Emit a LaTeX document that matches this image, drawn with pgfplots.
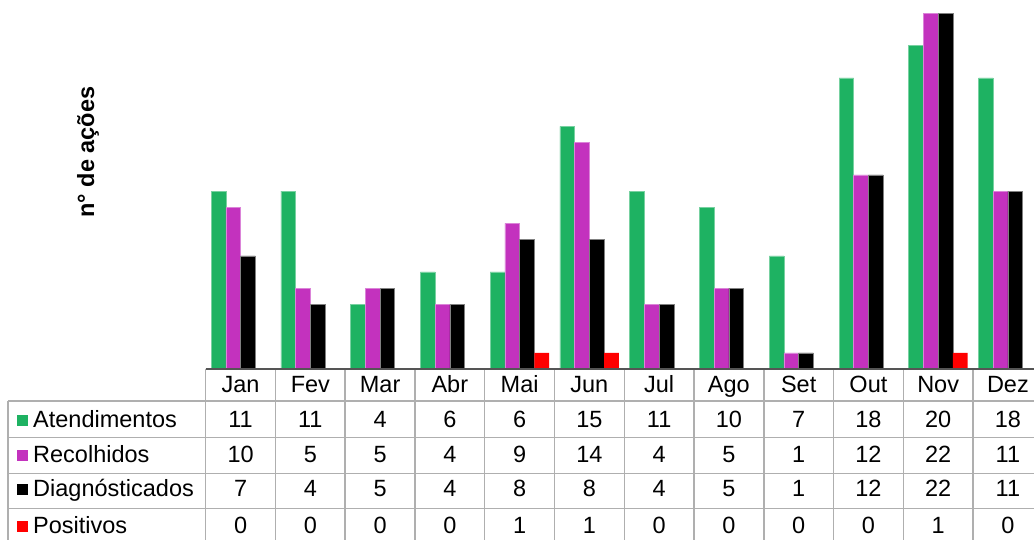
\documentclass[border=0pt]{standalone}
\usepackage{fontspec}
\setmainfont{Liberation Sans}
\usepackage{pgfplots}
\usepackage{pgfplotstable}
\pgfplotsset{compat=1.18}
\definecolor{cA}{RGB}{30,178,98}
\definecolor{cR}{RGB}{195,50,190}
\definecolor{cD}{RGB}{0,0,0}
\definecolor{cP}{RGB}{255,0,0}
\definecolor{gridc}{RGB}{175,175,175}
\definecolor{darkc}{RGB}{85,85,85}
\pgfplotstableread{
x m A R D P
0 Jan 11 10 7 0
1 Fev 11 5 4 0
2 Mar 4 5 5 0
3 Abr 6 4 4 0
4 Mai 6 9 8 1
5 Jun 15 14 8 1
6 Jul 11 4 4 0
7 Ago 10 5 5 0
8 Set 7 1 1 0
9 Out 18 12 12 0
10 Nov 20 22 22 1
11 Dez 18 11 11 0
}\data
\newcommand{\tf}{\fontsize{23.5}{27}\selectfont}
\begin{document}
\begin{tikzpicture}
\begin{axis}[at={(205.7pt,171pt)}, anchor=south west, scale only axis,
  width=837.1pt, height=369pt, xmin=-0.5, xmax=11.5, ymin=0, ymax=22.82,
  hide axis, clip=false,
  /pgf/number format/assume math mode=true,
  nodes near coords align=center,
  every node near coord/.append style={anchor=center, font=\tf, inner sep=0pt, text=black, text height=17pt, text depth=5pt}]
% bars
\addplot[ybar, bar width=14.7pt, bar shift=-22.05pt, fill=cA, draw=cA!60!white, line width=0.6pt] table[x=x,y=A]{\data};
\addplot[ybar, bar width=14.7pt, bar shift=-7.35pt, fill=cR, draw=cR!60!white, line width=0.6pt] table[x=x,y=R]{\data};
\addplot[ybar, bar width=14.7pt, bar shift=7.35pt, fill=cD, draw=gray, line width=0.6pt] table[x=x,y=D]{\data};
\addplot[ybar, bar width=14.7pt, bar shift=22.05pt, fill=cP, draw=none] table[x=x,y=P]{\data};
% table grid
\foreach \k in {0,...,12} {
  \edef\tmp{\noexpand\draw[gridc, line width=1.5pt] (axis cs:\k-0.5,0) -- (axis cs:\k-0.5,-10.7);}
  \tmp
}
\draw[gridc, line width=1.5pt] (axis cs:-3.334,-1.979) -- (axis cs:-3.334,-10.7);
\foreach \yy in {-1.979,-4.249,-6.45,-8.62} {
  \edef\tmp{\noexpand\draw[gridc, line width=1.5pt] (axis cs:-3.334,\yy) -- (axis cs:11.5,\yy);}
  \tmp
}
\draw[darkc, line width=2pt] (axis cs:-0.5,0) -- (axis cs:11.5,0);
% header and values
\addplot[draw=none, mark=none, nodes near coords, point meta=explicit symbolic] table[x=x, y expr=-1.113, meta=m]{\data};
\addplot[draw=none, mark=none, nodes near coords, point meta=explicit] table[x=x, y expr=-3.239, meta=A]{\data};
\addplot[draw=none, mark=none, nodes near coords, point meta=explicit] table[x=x, y expr=-5.419, meta=R]{\data};
\addplot[draw=none, mark=none, nodes near coords, point meta=explicit] table[x=x, y expr=-7.54, meta=D]{\data};
\addplot[draw=none, mark=none, nodes near coords, point meta=explicit] table[x=x, y expr=-9.79, meta=P]{\data};
% row headers
\node[anchor=base west, inner sep=0pt, font=\tf] at (axis cs:-3.205,-3.61) {\textcolor{cA}{\rule[1.5pt]{11pt}{11pt}}\hspace{5pt}Atendimentos};
\node[anchor=base west, inner sep=0pt, font=\tf] at (axis cs:-3.205,-5.79) {\textcolor{cR}{\rule[1.5pt]{11pt}{11pt}}\hspace{5pt}Recolhidos};
\node[anchor=base west, inner sep=0pt, font=\tf] at (axis cs:-3.205,-7.91) {\textcolor{cD}{\rule[1.5pt]{11pt}{11pt}}\hspace{5pt}Diagnósticados};
\node[anchor=base west, inner sep=0pt, font=\tf] at (axis cs:-3.205,-10.16) {\textcolor{cP}{\rule[1.5pt]{11pt}{11pt}}\hspace{5pt}Positivos};
% y label
\node[rotate=90, font=\bfseries\tf] at (axis cs:-2.187,13.42) {n° de ações};
\end{axis}
\pgfresetboundingbox
\useasboundingbox (0,0) rectangle (1034pt,540pt);
\end{tikzpicture}
\end{document}
